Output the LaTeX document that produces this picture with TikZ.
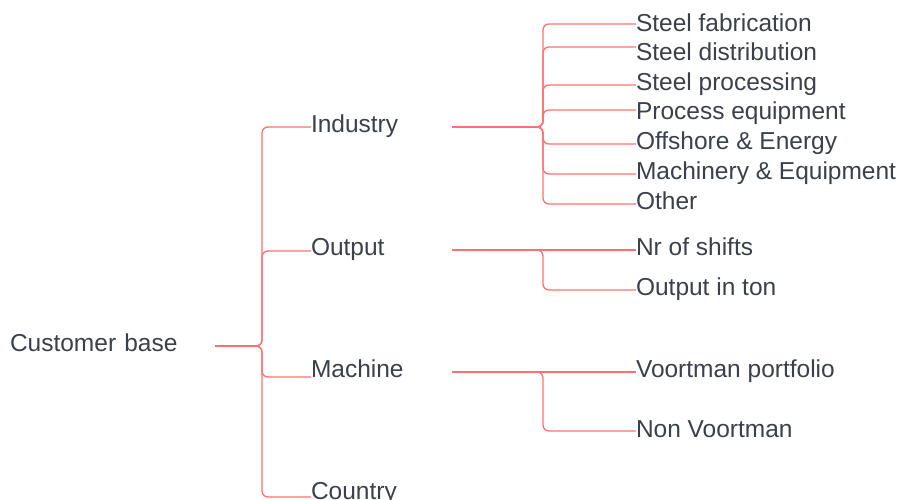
\documentclass[tikz,border=0pt]{standalone}
\usepackage{fontspec}
\setmainfont{Liberation Sans}
\newcommand{\lblfont}{\fontsize{24.5}{29}\selectfont}
\tikzset{
  topic/.style={anchor=west, inner sep=0pt, outer sep=0pt, text=textColor,
    font=\lblfont, text height=16pt, text depth=6pt, align=left},
  link/.style={draw=linkColor, line width=1.3pt, rounded corners=6pt}
}
\begin{document}
\begin{tikzpicture}[x=1pt,y=-1pt]
\definecolor{textColor}{RGB}{58,65,74}
\definecolor{linkColor}{RGB}{255,112,112}
\path[use as bounding box] (0,0) rectangle (900,499);

% root and first level
\node[topic,text width=205pt] (root) at ( 10,346) {Customer base};
\node[topic,text width=141pt] (industry) at (311,127) {Industry};
\node[topic,text width=141pt] (output) at (311,250) {Output};
\node[topic,text width=141pt] (machine) at (311,372) {Machine};
\node[topic,text width=141pt] (country) at (311,494) {Country};

% industry leaves
\node[topic] (fabrication) at (636, 26) {Steel fabrication};
\node[topic] (distribution) at (636, 55) {Steel distribution};
\node[topic] (processing) at (636, 85) {Steel processing};
\node[topic] (equipment) at (636,114) {Process equipment};
\node[topic] (offshore) at (636,144) {Offshore \& Energy};
\node[topic] (machinery) at (636,174) {Machinery \& Equipment};
\node[topic] (other) at (636,204) {Other};

% output and machine leaves
\node[topic] (shifts) at (636,250) {Nr of shifts};
\node[topic] (tons) at (636,290) {Output in ton};
\node[topic] (voortman) at (636,372) {Voortman portfolio};
\node[topic] (nonvoortman) at (636,432) {Non Voortman};

\draw[link] (root.east) -- ++(47,0) |- (industry.west);
\draw[link] (root.east) -- ++(47,0) |- ([yshift=-1pt]output.west);
\draw[link] (root.east) -- ++(47,0) |- ([yshift=-5pt]machine.west);
\draw[link] (root.east) -- ++(47,0) |- ([yshift=-3pt]country.west);

\draw[link] (industry.east) -- ++(91,0) |- ([yshift=2pt]fabrication.west);
\draw[link] (industry.east) -- ++(91,0) |- ([yshift=8pt]distribution.west);
\draw[link] (industry.east) -- ++(91,0) |- (processing.west);
\draw[link] (industry.east) -- ++(91,0) |- ([yshift=4pt]equipment.west);
\draw[link] (industry.east) -- ++(91,0) |- (offshore.west);
\draw[link] (industry.east) -- ++(91,0) |- (machinery.west);
\draw[link] (industry.east) -- ++(91,0) |- (other.west);

\draw[link] (output.east) -- (shifts.west);
\draw[link] (output.east) -- ++(91,0) |- (tons.west);
\draw[link] (machine.east) -- (voortman.west);
\draw[link] (machine.east) -- ++(91,0) |- ([yshift=1pt]nonvoortman.west);
\end{tikzpicture}
\end{document}
